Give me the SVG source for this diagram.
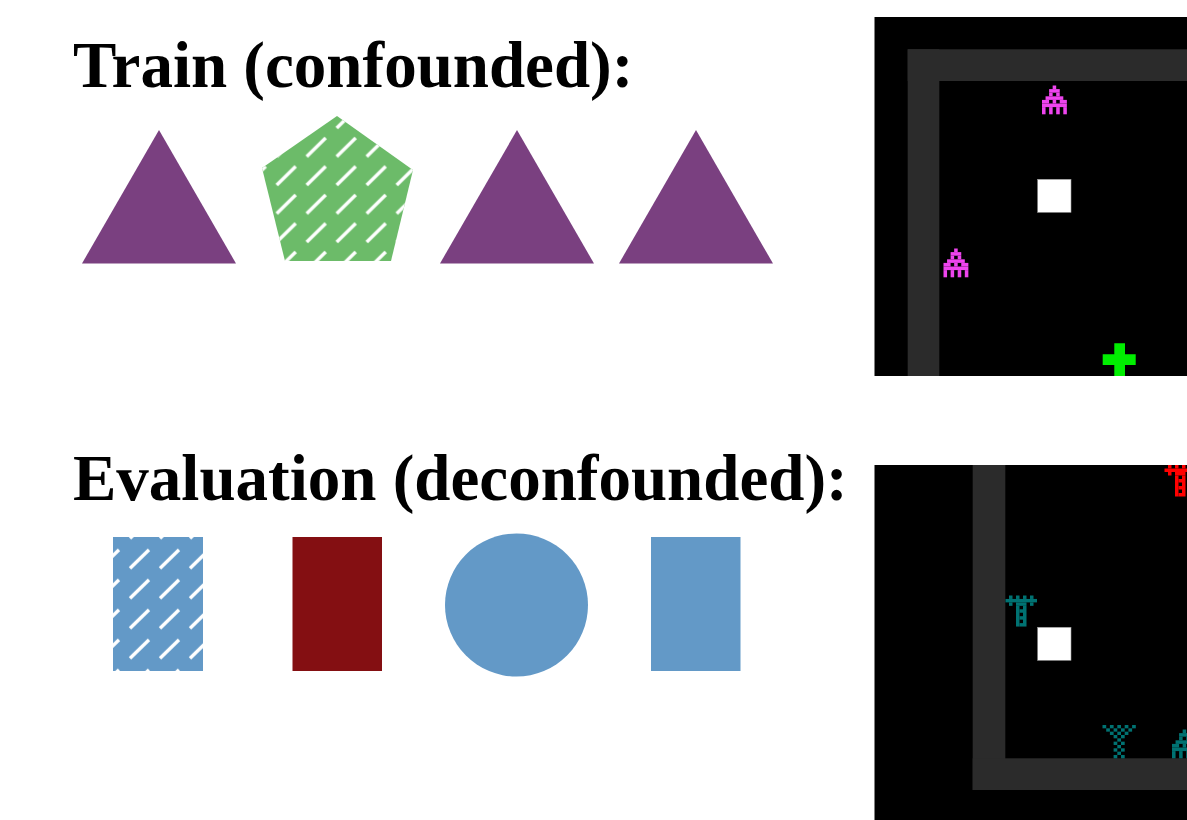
<svg xmlns="http://www.w3.org/2000/svg" xmlns:xlink="http://www.w3.org/1999/xlink" width="1187" height="820" viewBox="0 0 1187 820">
  <style>
    .title { font-family: "Liberation Serif", "Times New Roman", serif; font-weight: bold; font-size: 65px; fill: #000; }
    .purple { fill: #7a4080; }
    .blue { fill: #6399c7; }
    .panel { fill: #000; }
    .wall { fill: #2b2b2b; }
    .block { fill: #fff; stroke: #9a9a9a; stroke-width: 0.6; }
    .hatch { stroke: #fff; stroke-width: 3.4; fill: none; }
  </style>
  <defs>
    <pattern id="hatchPent" patternUnits="userSpaceOnUse" x="271.7" y="161.5" width="30" height="28.5">
      <line class="hatch" x1="5" y1="23.5" x2="24" y2="5"/>
    </pattern>
    <pattern id="hatchRect" patternUnits="userSpaceOnUse" x="125" y="544.8" width="30" height="30">
      <line class="hatch" x1="5" y1="23.5" x2="24" y2="5"/>
    </pattern>
    <!-- pixel sprites, one unit per cell -->
    <symbol id="ship" overflow="visible">
      <g fill="currentColor">
        <rect x="3" y="0" width="1" height="1"/>
        <rect x="2" y="1" width="3" height="1"/>
        <rect x="2" y="2" width="1" height="1"/><rect x="4" y="2" width="1" height="1"/>
        <rect x="1" y="3" width="5" height="1"/>
        <rect x="0" y="4" width="2" height="1"/><rect x="3" y="4" width="1" height="1"/><rect x="5" y="4" width="2" height="1"/>
        <rect x="0" y="5" width="7" height="1"/>
        <rect x="0" y="6" width="1" height="2"/><rect x="2" y="6" width="1" height="2"/><rect x="4" y="6" width="1" height="2"/><rect x="6" y="6" width="1" height="2"/>
      </g>
    </symbol>
    <symbol id="pylon" overflow="visible">
      <g fill="currentColor">
        <rect x="1" y="0" width="1" height="1"/><rect x="3" y="0" width="1" height="1"/><rect x="5" y="0" width="1" height="1"/><rect x="7" y="0" width="1" height="1"/>
        <rect x="0" y="1" width="9" height="1"/>
        <rect x="1" y="2" width="1" height="1"/><rect x="3" y="2" width="3" height="1"/><rect x="7" y="2" width="1" height="1"/>
        <rect x="3" y="3" width="1" height="6"/><rect x="5" y="3" width="1" height="6"/>
        <rect x="4" y="4" width="1" height="1"/><rect x="4" y="6" width="1" height="1"/><rect x="4" y="8" width="1" height="1"/>
      </g>
    </symbol>
    <symbol id="funnel" overflow="visible">
      <g fill="currentColor">
        <rect x="0" y="0" width="1" height="1"/><rect x="2" y="0" width="1" height="1"/><rect x="4" y="0" width="1" height="1"/><rect x="6" y="0" width="1" height="1"/><rect x="8" y="0" width="1" height="1"/>
        <rect x="1" y="1" width="1" height="1"/><rect x="3" y="1" width="1" height="1"/><rect x="5" y="1" width="1" height="1"/><rect x="7" y="1" width="1" height="1"/>
        <rect x="2" y="2" width="1" height="1"/><rect x="4" y="2" width="1" height="1"/><rect x="6" y="2" width="1" height="1"/>
        <rect x="3" y="3" width="1" height="1"/><rect x="5" y="3" width="1" height="1"/>
        <rect x="4" y="4" width="1" height="1"/>
        <rect x="3" y="5" width="1" height="1"/><rect x="5" y="5" width="1" height="1"/>
        <rect x="4" y="6" width="1" height="1"/>
        <rect x="3" y="7" width="1" height="1"/><rect x="5" y="7" width="1" height="1"/>
        <rect x="4" y="8" width="1" height="1"/>
        <rect x="3" y="9" width="1" height="1"/><rect x="5" y="9" width="1" height="1"/>
      </g>
    </symbol>
  </defs>

  <rect width="1187" height="820" fill="#fff"/>

  <!-- headings -->
  <text id="train-title" class="title" x="73" y="87">Train (confounded):</text>
  <text id="eval-title" class="title" x="73" y="500">Evaluation (deconfounded):</text>

  <!-- training shapes -->
  <g id="train-shape-1"><polygon class="purple" points="82,263.5 236,263.5 159,130"/></g>
  <g id="train-shape-2">
    <polygon fill="#6cbb69" points="337,116 413,170 391,261 285,261 262,168"/>
    <polygon fill="url(#hatchPent)" points="337,116 413,170 391,261 285,261 262,168"/>
  </g>
  <g id="train-shape-3"><polygon class="purple" points="440,263.5 594,263.5 517,130"/></g>
  <g id="train-shape-4"><polygon class="purple" points="619,263.5 773,263.5 696,130"/></g>

  <!-- evaluation shapes -->
  <g id="eval-shape-1">
    <rect class="blue" x="113" y="537" width="90" height="134"/>
    <rect fill="url(#hatchRect)" x="113" y="537" width="90" height="134"/>
  </g>
  <g id="eval-shape-2"><rect fill="#840f12" x="292.5" y="537" width="89.5" height="134"/></g>
  <g id="eval-shape-3"><circle class="blue" cx="516.5" cy="605" r="71.5"/></g>
  <g id="eval-shape-4"><rect class="blue" x="651" y="537" width="89.5" height="134"/></g>

  <!-- training environment view -->
  <g id="train-env">
    <rect class="panel" x="874.5" y="17" width="312.5" height="359"/>
    <rect class="wall" x="907.7" y="49.3" width="279.3" height="31.7"/>
    <rect class="wall" x="907.7" y="49.3" width="31.6" height="326.7"/>
    <rect class="block" x="1037.7" y="179.3" width="33.3" height="33"/>
    <use xlink:href="#ship" href="#ship" color="#ee44ee" transform="translate(1042,85.5) scale(3.55,3.6)"/>
    <use xlink:href="#ship" href="#ship" color="#ee44ee" transform="translate(943.5,248.5) scale(3.55,3.6)"/>
    <path fill="#00ee00" d="M1114.3,343.3 H1125 V354.3 H1135.7 V365 H1125 V376 H1114.3 V365 H1102.7 V354.3 H1114.3 Z"/>
  </g>

  <!-- evaluation environment view -->
  <g id="eval-env">
    <rect class="panel" x="874.5" y="465" width="312.5" height="355"/>
    <rect class="wall" x="972.7" y="465" width="32.6" height="325"/>
    <rect class="wall" x="972.7" y="758.3" width="214.3" height="31.7"/>
    <rect class="block" x="1037.7" y="627.3" width="33.3" height="33"/>
    <svg x="874.5" y="465" width="312.5" height="355" overflow="hidden">
      <use xlink:href="#pylon" href="#pylon" color="#ff0000" transform="translate(290,0) scale(3.5)"/>
    </svg>
    <use xlink:href="#pylon" href="#pylon" color="#007272" transform="translate(1005.5,595.5) scale(3.5,3.45)"/>
    <use xlink:href="#funnel" href="#funnel" color="#007272" transform="translate(1102.5,725) scale(3.7,3.33)"/>
    <use xlink:href="#ship" href="#ship" color="#007272" transform="translate(1172,729.5) scale(3.55,3.6)"/>
  </g>

  <g id="connectors"/>
</svg>
